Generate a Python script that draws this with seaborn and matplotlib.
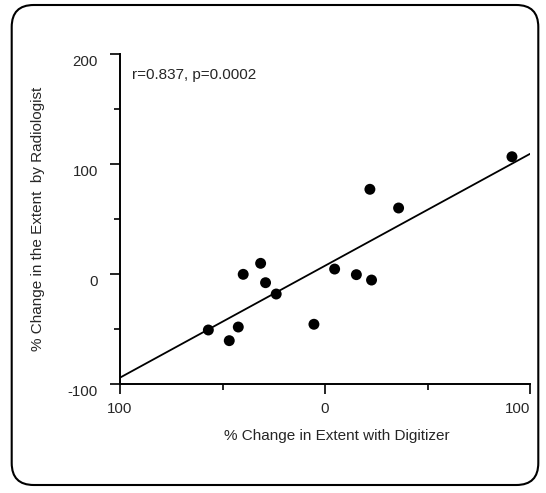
import numpy as np
import pandas as pd
import matplotlib
matplotlib.use("Agg")
import matplotlib.pyplot as plt
import seaborn as sns
from matplotlib.patches import FancyBboxPatch
from matplotlib.transforms import ScaledTranslation

# Datos
digitizer = [-56.9, -46.7, -42.3, -39.9, -31.4, -29.0, -23.8, -5.4,
             4.7, 15.3, 22.7, 21.9, 35.9, 91.2]
radiologist = [-50.9, -60.6, -48.2, -0.3, 9.7, -7.9, -18.2, -45.7,
               4.5, -0.6, -5.5, 77.0, 60.0, 106.6]

x_ticks = [-100, 0, 100]
x_tick_labels = ["100", "0", "100"]
x_minor = [-50, 50]
y_ticks = [-100, 0, 100, 200]
y_tick_labels = ["-100", "0", "100", "200"]
y_minor = [-50, 50, 150]

stats_text = "r=0.837, p=0.0002"
x_label = "% Change in Extent with Digitizer"
y_label = "% Change in the Extent  by Radiologist"

df = pd.DataFrame({"digitizer": digitizer, "radiologist": radiologist})

sns.set_style("ticks")
plt.rcParams["font.family"] = ["Liberation Sans", "DejaVu Sans"]

fig = plt.figure(figsize=(5.46, 4.93), dpi=100)
ax = fig.add_axes([120 / 546, 1 - 384 / 493, 410 / 546, 330 / 493])

ax.set_xlim(-100, 100)
ax.set_ylim(-100, 200)

sns.regplot(data=df, x="digitizer", y="radiologist", ax=ax, ci=None,
            truncate=False,
            scatter_kws={"s": 62, "color": "black", "edgecolor": "none", "alpha": 1},
            line_kws={"color": "black", "lw": 1.3})

ax.set_xlim(-100, 100)
ax.set_ylim(-100, 200)

# Ejes
sns.despine(ax=ax)
for side in ["left", "bottom"]:
    ax.spines[side].set_linewidth(1.4)
    ax.spines[side].set_color("black")

ax.set_xticks(x_ticks)
ax.set_xticklabels(x_tick_labels, fontsize=10.8)
ax.set_xticks(x_minor, minor=True)
ax.set_yticks(y_ticks)
ax.set_yticklabels(y_tick_labels, fontsize=10.8)
ax.set_yticks(y_minor, minor=True)
ax.tick_params(which="major", direction="out", length=7, width=1.2, color="black")
ax.tick_params(which="minor", direction="out", length=4.3, width=1.2, color="black")
ax.tick_params(axis="x", pad=6)
ax.tick_params(axis="y", pad=9)

xl = ax.get_xticklabels()
xl[-1].set_ha("right")
for lab in ax.get_yticklabels():
    lab.set_transform(lab.get_transform() + ScaledTranslation(0, -5 / 72, fig.dpi_scale_trans))

ax.set_xlabel(x_label, fontsize=11)
ax.set_ylabel(y_label, fontsize=11)
ax.xaxis.set_label_coords(0.529, -0.136)
ax.yaxis.set_label_coords(-0.183, 0.5)

ax.text(0.0285, 0.936, stats_text, transform=ax.transAxes, fontsize=11,
        ha="left", va="center")

# Marco redondeado
marco = FancyBboxPatch((0.117, 0.08), 5.266, 4.8,
                       boxstyle="round,pad=0,rounding_size=0.22",
                       transform=fig.dpi_scale_trans, fill=False,
                       edgecolor="black", linewidth=1.5)
fig.add_artist(marco)

fig.savefig("out.png", dpi=100)
